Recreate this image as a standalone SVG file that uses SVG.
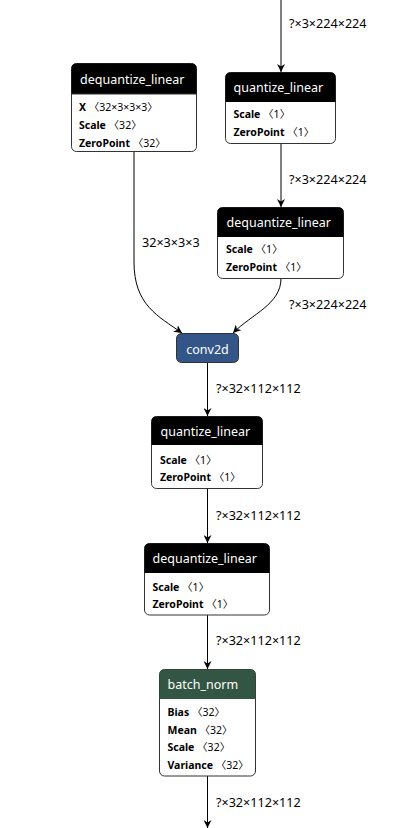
<svg xmlns="http://www.w3.org/2000/svg" width="413" height="828" viewBox="0 0 413 828">
<style>
.box{fill:#fff;stroke:#333;stroke-width:1}
.hdr{fill:#000}
.htxt{font-family:"Noto Sans","Open Sans","Noto Sans CJK SC",sans-serif;font-size:12.5px;fill:#fff}
.atxt{font-family:"Noto Sans","Noto Sans CJK SC",sans-serif;font-size:10.5px;fill:#000}
.atxt tspan.n{font-weight:bold}
.edge{fill:none;stroke:#000;stroke-width:1}
.lbl{font-family:"Noto Sans","Open Sans",sans-serif;font-size:12.6px;fill:#000}
</style>
<defs>
<marker id="arr" viewBox="0 0 10 10" refX="10" refY="5" markerWidth="8" markerHeight="8" markerUnits="userSpaceOnUse" orient="auto">
<path d="M0,0 L10,5 L0,10 L3,5 z" fill="#000"/>
</marker>
</defs>
<g id="edges">
<path class="edge" d="M281,0 L281,72" marker-end="url(#arr)"/>
<text class="lbl" x="289" y="28">?×3×224×224</text>
<path class="edge" d="M281,143.5 L281,207" marker-end="url(#arr)"/>
<text class="lbl" x="289" y="184">?×3×224×224</text>
<path class="edge" d="M134,151.5 L134,262 C134,305 158,316 182,333" marker-end="url(#arr)"/>
<text class="lbl" x="142" y="247">32×3×3×3</text>
<path class="edge" d="M281,278.5 C281,304 252,314 233,333" marker-end="url(#arr)"/>
<text class="lbl" x="289" y="309">?×3×224×224</text>
<path class="edge" d="M207.5,362.5 L207.5,416" marker-end="url(#arr)"/>
<text class="lbl" x="216" y="393">?×32×112×112</text>
<path class="edge" d="M207.5,488.5 L207.5,543" marker-end="url(#arr)"/>
<text class="lbl" x="216" y="520">?×32×112×112</text>
<path class="edge" d="M207.5,615 L207.5,669" marker-end="url(#arr)"/>
<text class="lbl" x="216" y="645">?×32×112×112</text>
<path class="edge" d="M207.5,776 L207.5,828" marker-end="url(#arr)"/>
<text class="lbl" x="216" y="807">?×32×112×112</text>
</g>
<g id="node_dq1">
<rect class="box" x="71.5" y="63.5" width="125" height="88" rx="5"/>
<path class="hdr" d="M71.5,94 L71.5,68.5 Q71.5,63.5 76.5,63.5 L191.5,63.5 Q196.5,63.5 196.5,68.5 L196.5,94 Z"/>
<line x1="71.5" y1="94" x2="196.5" y2="94" stroke="#333"/>
<text class="htxt" x="80" y="83.5">dequantize_linear</text>
<text class="atxt" x="79" y="111"><tspan class="n">X</tspan> 〈32×3×3×3〉</text>
<text class="atxt" x="79" y="129"><tspan class="n">Scale</tspan> 〈32〉</text>
<text class="atxt" x="79" y="146.5"><tspan class="n">ZeroPoint</tspan> 〈32〉</text>
</g>
<g id="node_q1">
<rect class="box" x="225.5" y="72.5" width="110" height="71" rx="5"/>
<path class="hdr" d="M225.5,102 L225.5,77.5 Q225.5,72.5 230.5,72.5 L330.5,72.5 Q335.5,72.5 335.5,77.5 L335.5,102 Z"/>
<text class="htxt" x="233.5" y="91.5">quantize_linear</text>
<text class="atxt" x="233.5" y="118"><tspan class="n">Scale</tspan> 〈1〉</text>
<text class="atxt" x="233.5" y="135.5"><tspan class="n">ZeroPoint</tspan> 〈1〉</text>
</g>
<g id="node_dq2">
<rect class="box" x="217.5" y="207.5" width="126" height="71" rx="5"/>
<path class="hdr" d="M217.5,237 L217.5,212.5 Q217.5,207.5 222.5,207.5 L338.5,207.5 Q343.5,207.5 343.5,212.5 L343.5,237 Z"/>
<text class="htxt" x="226.5" y="226.5">dequantize_linear</text>
<text class="atxt" x="226" y="253"><tspan class="n">Scale</tspan> 〈1〉</text>
<text class="atxt" x="226" y="270.5"><tspan class="n">ZeroPoint</tspan> 〈1〉</text>
</g>
<g id="node_conv2d">
<rect x="176.5" y="333.5" width="62" height="29" rx="5" fill="#335588" stroke="#333"/>
<text class="htxt" x="207.5" y="354" text-anchor="middle">conv2d</text>
</g>
<g id="node_q2">
<rect class="box" x="151.5" y="416.5" width="111" height="72" rx="5"/>
<path class="hdr" d="M151.5,445 L151.5,421.5 Q151.5,416.5 156.5,416.5 L257.5,416.5 Q262.5,416.5 262.5,421.5 L262.5,445 Z"/>
<text class="htxt" x="160.5" y="435.5">quantize_linear</text>
<text class="atxt" x="160" y="464"><tspan class="n">Scale</tspan> 〈1〉</text>
<text class="atxt" x="160" y="481"><tspan class="n">ZeroPoint</tspan> 〈1〉</text>
</g>
<g id="node_dq3">
<rect class="box" x="144.5" y="543.5" width="125" height="71.5" rx="5"/>
<path class="hdr" d="M144.5,573 L144.5,548.5 Q144.5,543.5 149.5,543.5 L264.5,543.5 Q269.5,543.5 269.5,548.5 L269.5,573 Z"/>
<text class="htxt" x="152.5" y="562.5">dequantize_linear</text>
<text class="atxt" x="152.5" y="590.5"><tspan class="n">Scale</tspan> 〈1〉</text>
<text class="atxt" x="152.5" y="608"><tspan class="n">ZeroPoint</tspan> 〈1〉</text>
</g>
<g id="node_bn">
<rect class="box" x="159.5" y="669.5" width="96" height="106.5" rx="5"/>
<path d="M159.5,699 L159.5,674.5 Q159.5,669.5 164.5,669.5 L250.5,669.5 Q255.5,669.5 255.5,674.5 L255.5,699 Z" fill="#335544"/>
<text class="htxt" x="167.5" y="688.5">batch_norm</text>
<text class="atxt" x="167.5" y="716"><tspan class="n">Bias</tspan> 〈32〉</text>
<text class="atxt" x="167.5" y="734"><tspan class="n">Mean</tspan> 〈32〉</text>
<text class="atxt" x="167.5" y="751"><tspan class="n">Scale</tspan> 〈32〉</text>
<text class="atxt" x="167.5" y="769"><tspan class="n">Variance</tspan> 〈32〉</text>
</g>
</svg>
